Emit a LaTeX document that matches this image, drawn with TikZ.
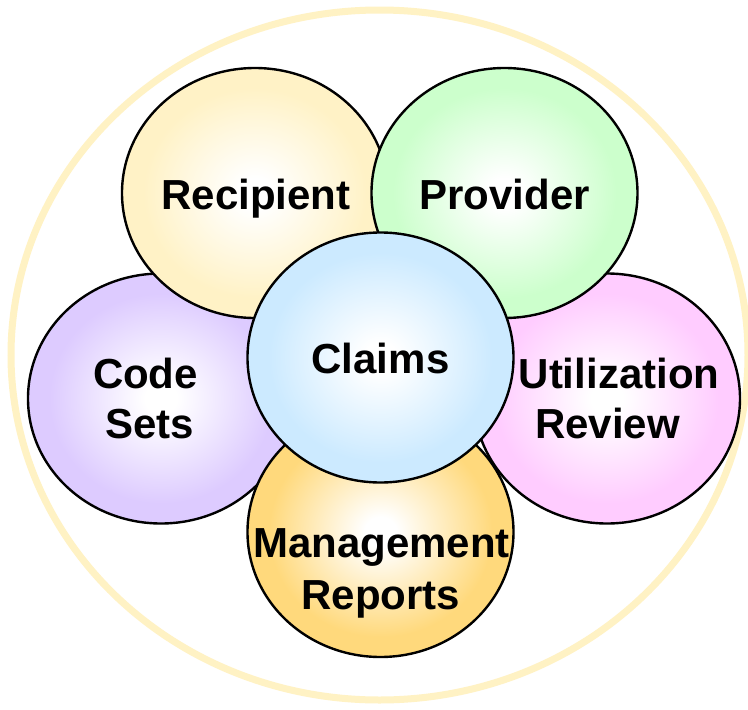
\documentclass[tikz,border=0pt]{standalone}
\usepackage{fontspec}
\setmainfont{Liberation Sans}
\colorlet{rimcol}{white}
\definecolor{ringc}{HTML}{FFF2C4}
\definecolor{recipc}{HTML}{FFF2C6}
\definecolor{provc}{HTML}{CCFFCC}
\definecolor{codec}{HTML}{DDCBFF}
\definecolor{utilc}{HTML}{FFCCFF}
\definecolor{mgmtc}{HTML}{FFD97C}
\definecolor{claimc}{HTML}{CCEAFF}
\pgfdeclareradialshading[rimcol]{glow}{\pgfpointorigin}{color(0bp)=(white); color(3bp)=(white); color(21bp)=(rimcol); color(50bp)=(rimcol)}
\tikzset{
  bubble/.style={/utils/exec={\colorlet{rimcol}{#1}}, shade, shading=glow, draw=black, line width=2.4pt},
  lbl/.style={anchor=base, inner sep=0pt, font=\fontsize{42}{50}\selectfont\bfseries, text=black}
}
\begin{document}
\begin{tikzpicture}[x=1pt, y=-1pt]
\useasboundingbox[fill=white] (0,0) rectangle (748,710);
\draw[ringc, line width=7pt] (379.5,355) ellipse [x radius=368.5, y radius=345];
\path[bubble=codec] (161,398.5) ellipse [x radius=133, y radius=125];
\path[bubble=utilc] (607,398.5) ellipse [x radius=133, y radius=125];
\path[bubble=mgmtc] (380.5,532) ellipse [x radius=133, y radius=125];
\path[bubble=recipc] (255,193) ellipse [x radius=133, y radius=125];
\path[bubble=provc] (504.5,193) ellipse [x radius=133, y radius=125];
\path[bubble=claimc] (380.5,357.5) ellipse [x radius=133, y radius=125];
\node[lbl] (recipient) at (256,209) {Recipient};
\node[lbl] (provider) at (504.5,209) {Provider};
\node[lbl] (claims) at (380.5,373) {Claims};
\node[lbl] (code) at (145.5,388) {Code};
\node[lbl] (sets) at (149.5,438) {Sets};
\node[lbl] (util) at (619,388) {Utilization};
\node[lbl] (review) at (607.5,438) {Review};
\node[lbl] (mgmt) at (381.5,557) {Management};
\node[lbl] (reports) at (381,609) {Reports};
\end{tikzpicture}
\end{document}
